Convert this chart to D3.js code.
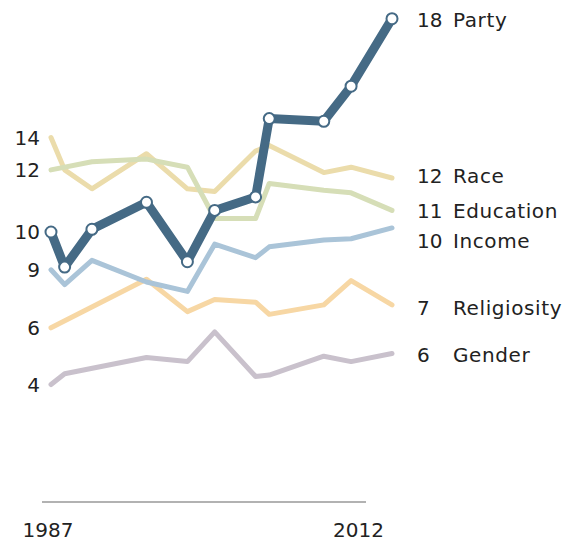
<!DOCTYPE html>
<html>
<head>
<meta charset="utf-8">
<script src="https://cdn.jsdelivr.net/npm/d3@7"></script>
<style>
  body { margin: 0; background: #fff; }
  svg text { font-family: "DejaVu Sans", Verdana, sans-serif; font-size: 20px; fill: #222; }
  svg text.name { letter-spacing: 0.6px; }
</style>
</head>
<body>
<svg id="chart" width="571" height="542"></svg>
<script>
// survey years
const years = [1987, 1988, 1990, 1994, 1997, 1999, 2002, 2003, 2007, 2009, 2012];

// gap values per series (null = no reading that year)
const party       = [10.0, 8.7, 10.1, 11.1, 8.9, 10.8, 11.3, 14.2, 14.1, 15.4, 17.9];
const race        = [13.5, 12.3, 11.6, 12.9, 11.6, 11.5, 13.0, 13.2, 12.2, 12.4, 12.0];
const education   = [12.3, null, 12.6, 12.7, 12.4, 10.5, 10.5, 11.8, 11.55, 11.45, 10.8];
const income      = [8.6, 8.05, 8.95, 8.15, 7.8, 9.55, 9.05, 9.45, 9.7, 9.75, 10.15];
const religiosity = [6.45, null, null, 8.25, 7.05, 7.5, 7.4, 6.95, 7.3, 8.2, 7.3];
const gender      = [4.35, 4.75, null, 5.35, 5.2, 6.3, 4.65, 4.7, 5.4, 5.2, 5.5];

const names       = ["Race", "Religiosity", "Education", "Income", "Gender", "Party"];
const startLabels = ["14", "6", "12", "9", "4", "10"];
const endLabels   = ["12", "7", "11", "10", "6", "18"];

const seriesValues = [race, religiosity, education, income, gender, party];
const colors = ["#ebdcab", "#f7d7a4", "#d6deb7", "#aac4d8", "#c9c1cc", "#456a85"];
const widths = [5, 5, 5, 5, 5, 9];
// small vertical nudges for the right-hand labels so they don't collide
const labelNudge = [-2, 3, 0, 13, 1, 1];

const svg = d3.select("#chart");

const x = d3.scaleLinear().domain([1987, 2012]).range([51, 392]);
const y = d3.scaleLinear().domain([0, 18]).range([502, 16]);

const line = d3.line()
  .x(d => x(d.year))
  .y(d => y(d.value));

const series = names.map((name, i) => ({
  name: name,
  color: colors[i],
  width: widths[i],
  start: startLabels[i],
  end: endLabels[i],
  nudge: labelNudge[i],
  points: years.map((yr, j) => ({year: yr, value: seriesValues[i][j]}))
               .filter(d => d.value !== null)
}));

// x axis baseline
svg.append("line")
  .attr("x1", x(1987) - 9).attr("x2", x(2012) - 26)
  .attr("y1", y(0)).attr("y2", y(0))
  .attr("stroke", "#999").attr("stroke-width", 1.5);

svg.append("text").attr("x", x(1987) - 3).attr("y", 537)
  .attr("text-anchor", "middle").text("1987");
svg.append("text").attr("x", x(2012) - 8).attr("y", 537)
  .attr("text-anchor", "end").text("2012");

// lines
svg.selectAll("path.series")
  .data(series)
  .join("path")
  .attr("class", "series")
  .attr("fill", "none")
  .attr("stroke", d => d.color)
  .attr("stroke-width", d => d.width)
  .attr("stroke-linejoin", "round")
  .attr("stroke-linecap", "round")
  .attr("d", d => line(d.points));

// party markers
const partySeries = series.find(s => s.name === "Party");
svg.selectAll("circle.pt")
  .data(partySeries.points)
  .join("circle")
  .attr("class", "pt")
  .attr("cx", d => x(d.year))
  .attr("cy", d => y(d.value))
  .attr("r", 5.5)
  .attr("fill", "#fff")
  .attr("stroke", partySeries.color)
  .attr("stroke-width", 2);

// left (start) labels
svg.selectAll("text.start")
  .data(series)
  .join("text")
  .attr("class", "start")
  .attr("x", 40)
  .attr("y", d => y(d.points[0].value) + 7.3)
  .attr("text-anchor", "end")
  .text(d => d.start);

// right (end) labels
const endG = svg.selectAll("g.end")
  .data(series)
  .join("g")
  .attr("class", "end")
  .attr("transform", d => `translate(0,${y(d.points[d.points.length - 1].value) + d.nudge + 7.3})`);

endG.append("text").attr("x", 417).text(d => d.end);
endG.append("text").attr("class", "name").attr("x", 453).text(d => d.name);
</script>
</body>
</html>
